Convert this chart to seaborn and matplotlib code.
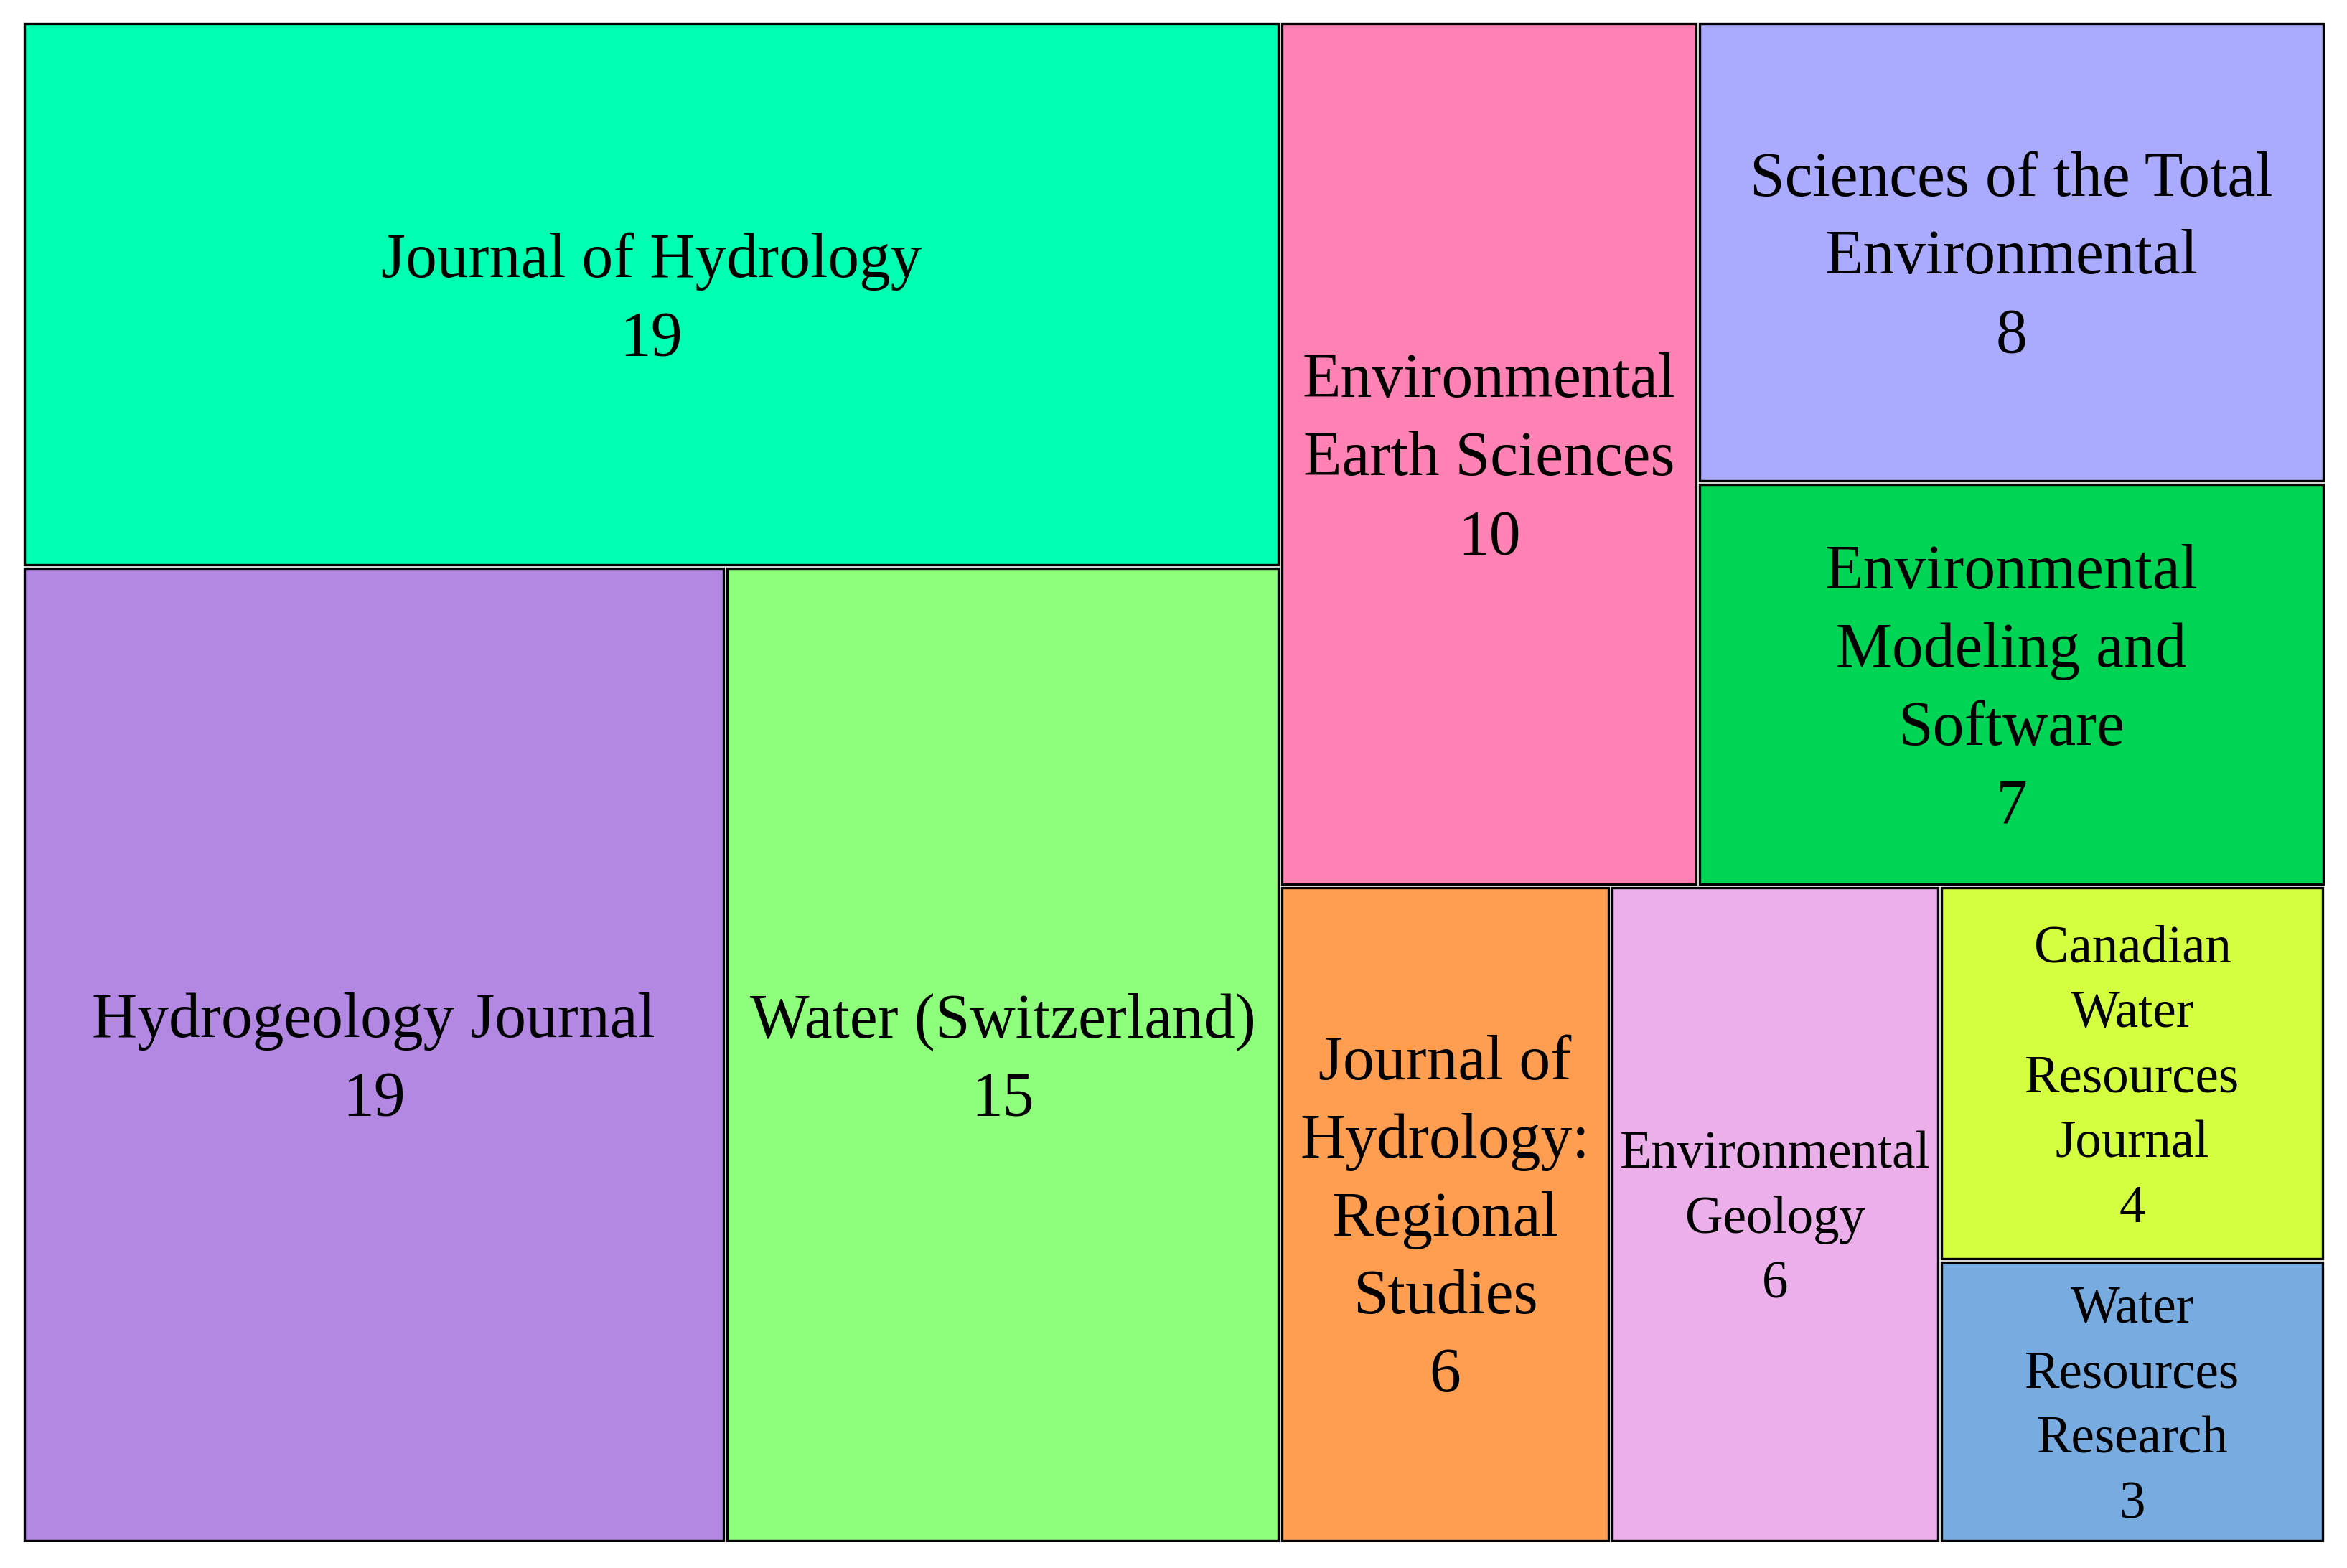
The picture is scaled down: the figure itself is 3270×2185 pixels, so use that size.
import numpy as np
import matplotlib
matplotlib.use("Agg")
import matplotlib.pyplot as plt
import seaborn as sns

# journals and number of papers
journals = ["Journal of Hydrology", "Hydrogeology Journal", "Water (Switzerland)",
            "Environmental\nEarth Sciences", "Sciences of the Total\nEnvironmental",
            "Environmental\nModeling and\nSoftware", "Journal of\nHydrology:\nRegional\nStudies",
            "Environmental\nGeology", "Canadian\nWater\nResources\nJournal",
            "Water\nResources\nResearch"]
counts = [19, 19, 15, 10, 8, 7, 6, 6, 4, 3]
colors = ["#00FFB0", "#B388E3", "#8EFF7A", "#FF82B4", "#AAAAFF",
          "#00D455", "#FF9E50", "#EBB0EA", "#D4FF40", "#78ACE0"]
font_sizes = [21, 21, 21, 21, 21, 21, 21, 17.5, 17.5, 17.5]

# grouping of the treemap (indices into the lists above)
groups = [[0, [1, 2]], [[3, [4, 5]], [6, 7, [8, 9]]]]


def total(node):
    if isinstance(node, list):
        return sum(total(n) for n in node)
    return counts[node]


def layout(node, x, y, w, h, out):
    # split each group along its longer side, proportional to the counts
    if not isinstance(node, list):
        out[node] = (x, y, w, h)
        return
    s = total(node)
    pos = 0.0
    for child in node:
        f = total(child) / s
        if w >= h:
            layout(child, x + pos * w, y, f * w, h, out)
        else:
            layout(child, x, y + pos * h, w, f * h, out)
        pos += f


W, H = 3208, 2119
rects = {}
layout(groups, 0, 0, W, H, rects)

sns.set_theme(style="white")
plt.rcParams['font.family'] = ['Liberation Serif', 'DejaVu Serif']

fig = plt.figure(figsize=(10.9, 7.285), dpi=300)
ax = fig.add_axes([31 / 3270, 36 / 2186, W / 3270, H / 2186])
pad = 2.5
for i in range(len(counts)):
    x, y, w, h = rects[i]
    ax.bar(x + pad, h - 2 * pad, width=w - 2 * pad, bottom=y + pad, align='edge',
           color=colors[i], edgecolor='black', linewidth=0.8)
    ax.text(x + w / 2, y + h / 2 + 8, journals[i] + "\n" + str(counts[i]),
            ha='center', va='center', fontsize=font_sizes[i], linespacing=1.45,
            color='black')

ax.set_xlim(0, W)
ax.set_ylim(H, 0)
ax.axis('off')
fig.savefig("out.png", dpi=300)
